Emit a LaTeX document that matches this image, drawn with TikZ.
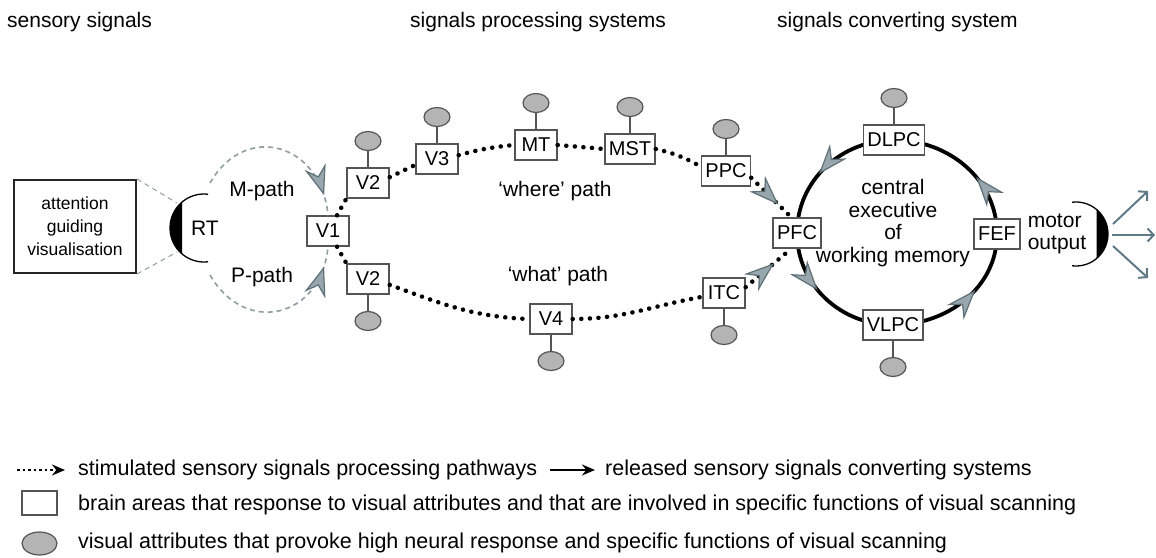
\documentclass[tikz,border=0pt]{standalone}
\usepackage{fontspec}
\setmainfont{Liberation Sans}
\usepackage{tikz}
\usetikzlibrary{arrows.meta}
\usetikzlibrary{shapes.geometric}
\usetikzlibrary{positioning}
\usetikzlibrary{decorations.markings}
\usetikzlibrary{backgrounds}
\definecolor{tipgrey}{HTML}{98A6AD}
\definecolor{tipedge}{HTML}{5F7078}
\definecolor{pathgrey}{HTML}{8E9CA3}
\definecolor{attrgrey}{HTML}{B4B4B4}
\definecolor{edgegrey}{HTML}{555555}
\definecolor{motorblue}{HTML}{5F7A86}

\begin{document}
\begin{tikzpicture}[x=1pt, y=1pt, font=\fontsize{21}{23}\selectfont,
area/.style={draw=edgegrey, line width=1.3pt, fill=white, inner xsep=4pt, inner ysep=0pt,
  minimum width=42pt, minimum height=30pt, font=\fontsize{20}{22}\selectfont},
attr/.style={ellipse, draw=edgegrey, fill=attrgrey, line width=1.2pt, minimum width=26pt,
  minimum height=19pt, inner sep=0pt},
stem/.style={draw=edgegrey, line width=1.2pt},
stim/.style={line width=4.5pt, line cap=round, dash pattern=on 0.1pt off 8.5pt},
ring/.style={line width=3.8pt},
mpath/.style={draw=pathgrey, line width=1.6pt, dash pattern=on 5pt off 4pt},
motor/.style={draw=motorblue, line width=2pt, -{Straight Barb[length=6pt, width=13pt]}},
txt/.style={inner sep=0pt},
legend/.style={inner sep=0pt, anchor=west, font=\fontsize{21.5}{23}\selectfont},
gtip/.style={postaction={decorate, decoration={markings, mark=at position #1 with
  {\arrow[line width=1.2pt]{Stealth[length=30pt, width=22pt, inset=10pt, fill=tipgrey, color=tipedge]}}}}}]
\useasboundingbox (0,0) rectangle (1156,-557);

\node[txt, anchor=west] (tsens) at (7,-22) {sensory signals};
\node[txt, anchor=west] (tproc) at (410,-22) {signals processing systems};
\node[txt, anchor=west] (tconv) at (777,-22) {signals converting system};

\node[draw=black!85, line width=2pt, minimum width=122pt, minimum height=93pt, align=center,
  font=\fontsize{17.5}{23}\selectfont] (att) at (75,-226.5) {attention\\guiding\\visualisation};
\coordinate (rtc) at (204,-228);
\coordinate (rtA) at (177,-203);
\coordinate (rtB) at (177,-252);
\coordinate (rtM) at (210,-183);
\coordinate (rtP) at (210,-275);
\draw[line width=1.3pt] ([shift={(83:34pt)}]rtc) arc[start angle=83, end angle=277, radius=34pt];
\fill (rtc) ++(130:34pt) arc[start angle=130, end angle=230, radius=34pt] -- cycle;
\draw[mpath, line width=1pt] (att.north east) -- (rtA);
\draw[mpath, line width=1pt] (att.south east) -- (rtB);
\node (RT) at (205,-228) {RT};
\node (Mp) at (262,-191) {M-path};
\node (Pp) at (262,-277) {P-path};

\node[area] (V1) at (328,-231) {V1};
\node[area] (V2a) at (368,-183) {V2};
\node[area] (V2b) at (368,-279) {V2};
\node[area] (V3) at (437,-159) {V3};
\node[area] (MT) at (536,-145) {MT};
\node[area] (MST) at (630,-149) {MST};
\node[area] (PPC) at (726,-171) {PPC};
\node[area] (V4) at (551,-319) {V4};
\node[area] (ITC) at (724,-293) {ITC};
\node[area] (PFC) at (797,-233) {PFC};
\node[area] (DLPC) at (894,-140) {DLPC};
\node[area] (VLPC) at (893,-325) {VLPC};
\node[area] (FEF) at (997,-234) {FEF};

\foreach \n/\s in {V2a/1,V3/1,MT/1,MST/1,PPC/1,DLPC/1,V2b/-1,V4/-1,ITC/-1,VLPC/-1}
{
\node[attr] (\n-a) at ([yshift=\s*42pt]\n) {};
\draw[stem] (\n) -- (\n-a);
}

\node (where) at (555,-191) {‘where’ path};
\node (what) at (558,-276) {‘what’ path};
\node[align=center, font=\fontsize{21}{22.7}\selectfont] (cewm) at (893,-223)
  {central\\executive\\of\\working memory};
\node[align=left, font=\fontsize{21}{22}\selectfont] (motout) at (1057,-234) {motor\\output};

\draw[mpath, gtip=0.88] (rtM) to[out=60, in=95, looseness=1.5] (V1.north);
\draw[mpath, gtip=0.88] (rtP) to[out=-60, in=-95, looseness=1.5] (V1.south);

\draw[stim] (V1.60) -- (V2a.south west);
\draw[stim] (V2a.15) -- (V3.195);
\draw[stim] (V3.10) to[bend left=5] (MT.west);
\draw[stim] (MT.east) -- (MST.west);
\draw[stim] (MST.east) to[bend left=8] (PPC.170);
\draw[stim, gtip=0.68] (PPC.-15) -- (PFC.110);
\draw[stim] (V1.-60) -- (V2b.north west);
\draw[stim] (V2b.-15) to[out=-20, in=178] (V4.west);
\draw[stim] (V4.east) to[out=0, in=190] (ITC.190);
\draw[stim, gtip=0.62] (ITC.15) -- (PFC.-110);

\begin{scope}[on background layer]
\draw[ring, gtip=0.42] (PFC.center) to[out=-90, in=180] (VLPC.center);
\draw[ring, gtip=0.6] (VLPC.center) to[out=0, in=-90] (FEF.center);
\draw[ring, gtip=0.4] (FEF.center) to[out=90, in=0] (DLPC.center);
\draw[ring, gtip=0.57] (DLPC.center) to[out=180, in=90] (PFC.center);
\end{scope}

\coordinate (moc) at (1076,-234);
\draw[line width=1.3pt] ([shift={(97:32pt)}]moc) arc[start angle=97, end angle=-97, radius=32pt];
\fill (moc) ++(50:32pt) arc[start angle=50, end angle=-50, radius=32pt] -- cycle;
\coordinate (mo1) at (1113,-224);
\coordinate (mo2) at (1112,-235);
\coordinate (mo3) at (1113,-246);
\coordinate (out1) at (1148,-191);
\coordinate (out2) at (1155,-235);
\coordinate (out3) at (1148,-278);
\draw[motor] (mo1) -- (out1);
\draw[motor] (mo2) -- (out2);
\draw[motor] (mo3) -- (out3);

\coordinate (ls1) at (17,-470);
\coordinate (le1) at (65,-470);
\coordinate (ls2) at (550,-470);
\coordinate (le2) at (595,-470);
\draw[line width=2pt, dash pattern=on 2.5pt off 3pt, -{Stealth[length=13pt, width=11pt]}] (ls1) -- (le1);
\draw[line width=2.2pt, -{Stealth[length=13pt, width=11pt]}] (ls2) -- (le2);
\node[legend] (lg1) at (78,-470) {stimulated sensory signals processing pathways};
\node[legend] (lg2) at (605,-470) {released sensory signals converting systems};
\node[draw=edgegrey, line width=1.3pt, minimum width=35pt, minimum height=24pt] (lgbox) at (39.5,-503) {};
\node[legend] (lg3) at (78,-505) {brain areas that response to visual attributes and that are involved in specific functions of visual scanning};
\node[attr, minimum width=35pt, minimum height=23pt] (lgatt) at (39.5,-543.5) {};
\node[legend] (lg4) at (78,-543) {visual attributes that provoke high neural response and specific functions of visual scanning};
\end{tikzpicture}
\end{document}
